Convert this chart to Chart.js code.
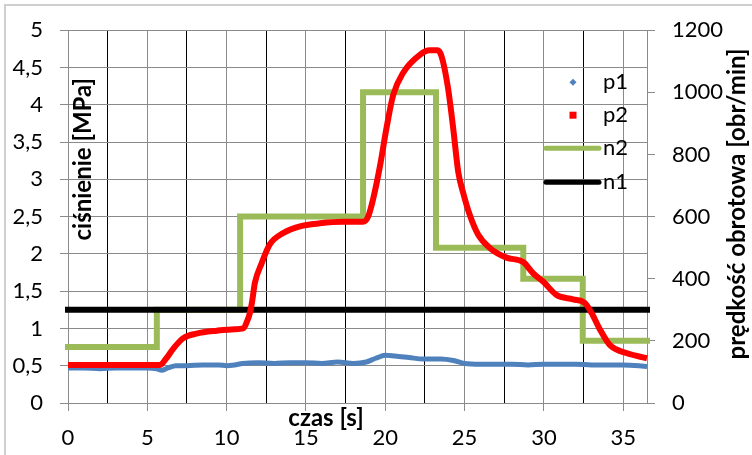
<!DOCTYPE html>
<html>
<head>
<meta charset="utf-8">
<script src="https://cdn.jsdelivr.net/npm/chart.js@4/dist/chart.umd.min.js"></script>
<style>
  html, body { margin: 0; padding: 0; background: #fff; }
</style>
</head>
<body>
<canvas id="chart" width="752" height="455"></canvas>
<script>
// p1 pressure [MPa] over time [s]
const p1Time   = [0, 1, 2, 3, 4, 5, 5.6, 5.9, 6.3, 6.8, 7.5, 8.5, 9.5, 10, 10.5, 11, 12, 13, 14, 15, 16, 17, 18, 18.8, 19.4, 20, 20.6, 21.5, 22.4, 23.5, 24.3, 25, 26, 27, 28, 29, 30, 31, 32, 33, 34, 35, 36, 36.5];
const p1Values = [0.47, 0.47, 0.46, 0.47, 0.47, 0.47, 0.46, 0.44, 0.47, 0.50, 0.50, 0.51, 0.51, 0.50, 0.51, 0.53, 0.54, 0.53, 0.54, 0.54, 0.53, 0.55, 0.53, 0.55, 0.60, 0.64, 0.63, 0.61, 0.59, 0.59, 0.57, 0.53, 0.52, 0.52, 0.52, 0.51, 0.52, 0.52, 0.52, 0.51, 0.51, 0.51, 0.50, 0.49];

// p2 pressure [MPa] over time [s]
const p2Time   = [0, 2, 4, 5.8, 6.2, 6.64, 7.27, 8.1, 9.4, 10.5, 11.05, 11.3, 11.47, 11.6, 11.78, 12.2, 12.73, 13.57, 14.62, 15.88, 17.35, 18.6, 18.92, 19.24, 19.66, 20.08, 20.5, 21.13, 22.18, 22.8, 23.3, 23.55, 23.96, 24.28, 24.6, 24.91, 25.33, 25.85, 26.59, 27.64, 28.7, 29.32, 29.95, 30.79, 31.84, 32.58, 33.0, 33.5, 34.15, 35.2, 36.5];
const p2Values = [0.51, 0.51, 0.51, 0.51, 0.60, 0.73, 0.87, 0.93, 0.97, 0.99, 1.00, 1.10, 1.21, 1.35, 1.61, 1.87, 2.13, 2.28, 2.37, 2.41, 2.43, 2.43, 2.50, 2.74, 3.17, 3.69, 4.13, 4.43, 4.67, 4.73, 4.73, 4.65, 4.22, 3.69, 3.10, 2.82, 2.52, 2.26, 2.08, 1.95, 1.89, 1.74, 1.63, 1.45, 1.39, 1.34, 1.21, 1.00, 0.78, 0.67, 0.60];

// n2 rotational speed [obr/min] (steps)
const n2Time   = [0, 5.6, 5.6, 10.85, 10.85, 18.6, 18.6, 23.2, 23.2, 28.7, 28.7, 32.45, 32.45, 36.5];
const n2Values = [180, 180, 300, 300, 600, 600, 1000, 1000, 500, 500, 400, 400, 200, 200];

// n1 rotational speed [obr/min]
const n1Time   = [0, 36.5];
const n1Values = [300, 300];

// tick labels
const pressureTicks = [0, 0.5, 1, 1.5, 2, 2.5, 3, 3.5, 4, 4.5, 5];
const pressureLabels = ['0', '0,5', '1', '1,5', '2', '2,5', '3', '3,5', '4', '4,5', '5'];
const speedTicks = [0, 200, 400, 600, 800, 1000, 1200];
const speedLabels = ['0', '200', '400', '600', '800', '1000', '1200'];
const timeLabels = ['0', '5', '10', '15', '20', '25', '30', '35'];

const GRID = '#8a8a8a';
const FONT = 'Lato';

const toPoints = (xs, ys) => xs.map((x, i) => ({ x: x, y: ys[i] }));

// frame, axis titles and the legend inside the plot
const extras = {
    id: 'extras',
    beforeDraw(chart) {
        const ctx = chart.ctx;
        ctx.save();
        ctx.strokeStyle = '#cfcfcf';
        ctx.lineWidth = 2;
        ctx.beginPath();
        ctx.moveTo(5, chart.height);
        ctx.lineTo(5, 5);
        ctx.lineTo(chart.width, 5);
        ctx.stroke();
        ctx.restore();
    },
    afterDraw(chart) {
        const ctx = chart.ctx;
        const a = chart.chartArea;
        ctx.save();
        ctx.fillStyle = '#000';
        ctx.textBaseline = 'middle';

        // axis titles
        ctx.font = 'bold 24px ' + FONT;
        ctx.textAlign = 'center';
        ctx.fillText('czas [s]', 326, 418);

        ctx.save();
        ctx.translate(a.left + 15, a.top + 129);
        ctx.rotate(-Math.PI / 2);
        ctx.fillText('ciśnienie [MPa]', 0, 0);
        ctx.restore();

        ctx.save();
        ctx.translate(737, 204);
        ctx.rotate(-Math.PI / 2);
        ctx.fillText('prędkość obrotowa [obr/min]', 0, 0);
        ctx.restore();

        // legend
        const ds = chart.data.datasets;
        const rows = [a.top + 52, a.top + 85, a.top + 118, a.top + 152];
        const mx = a.right - 74;
        ctx.font = '22px ' + FONT;
        ctx.textAlign = 'left';
        ds.forEach((d, i) => {
            const y = rows[i];
            if (d.legendStyle === 'diamond') {
                ctx.save();
                ctx.translate(mx, y);
                ctx.rotate(Math.PI / 4);
                ctx.fillStyle = d.borderColor;
                ctx.fillRect(-2.5, -2.5, 5, 5);
                ctx.restore();
            } else if (d.legendStyle === 'square') {
                ctx.fillStyle = d.borderColor;
                ctx.fillRect(mx - 3.5, y - 3.5, 7, 7);
            } else {
                ctx.strokeStyle = d.borderColor;
                ctx.lineWidth = 5;
                ctx.lineCap = 'round';
                ctx.beginPath();
                ctx.moveTo(a.right - 101, y);
                ctx.lineTo(a.right - 48, y);
                ctx.stroke();
            }
            ctx.fillStyle = '#000';
            ctx.fillText(d.label, a.right - 44, y);
        });
        ctx.restore();
    }
};

new Chart(document.getElementById('chart'), {
    type: 'scatter',
    data: {
        datasets: [
            { label: 'p1', data: toPoints(p1Time, p1Values), yAxisID: 'y', borderColor: '#4F81BD', borderWidth: 5, legendStyle: 'diamond', order: 2, cubicInterpolationMode: 'monotone' },
            { label: 'p2', data: toPoints(p2Time, p2Values), yAxisID: 'y', borderColor: '#FF0000', borderWidth: 6, legendStyle: 'square', order: 1, cubicInterpolationMode: 'monotone' },
            { label: 'n2', data: toPoints(n2Time, n2Values), yAxisID: 'y1', borderColor: '#9BBB59', borderWidth: 6, borderCapStyle: 'square', borderJoinStyle: 'miter', legendStyle: 'line', order: 4 },
            { label: 'n1', data: toPoints(n1Time, n1Values), yAxisID: 'y1', borderColor: '#000000', borderWidth: 6, borderCapStyle: 'square', legendStyle: 'line', order: 3 }
        ].map(d => ({ ...d, showLine: true, pointRadius: 0, pointHoverRadius: 0, clip: 5 }))
    },
    options: {
        responsive: false,
        devicePixelRatio: 1,
        animation: false,
        layout: { padding: { top: 20, left: 0, right: 0, bottom: 0 } },
        plugins: { legend: { display: false }, tooltip: { enabled: false } },
        scales: {
            x: {
                type: 'linear',
                min: 0,
                max: 36.5,
                afterFit: s => { s.height = 52; },
                afterBuildTicks: s => {
                    // grid every 2.5 s, labels every 5 s
                    s.ticks = [];
                    for (let i = 0; i < timeLabels.length * 2 - 1; i++) s.ticks.push({ value: i * 2.5 });
                },
                ticks: {
                    padding: 14,
                    color: '#000',
                    font: { family: FONT, size: 22 },
                    maxRotation: 0,
                    autoSkip: false,
                    callback: (v) => (v % 5 === 0 ? timeLabels[v / 5] : '')
                },
                grid: {
                    color: c => (c.tick && c.tick.value % 5 !== 0 ? '#000' : GRID),
                    tickColor: c => (c.tick && c.tick.value % 5 !== 0 ? 'rgba(0,0,0,0)' : GRID),
                    tickLength: 8
                },
                border: { display: true, color: GRID }
            },
            y: {
                type: 'linear',
                position: 'left',
                min: 0,
                max: 5,
                afterFit: s => { s.width = 68; },
                afterBuildTicks: s => { s.ticks = pressureTicks.map(v => ({ value: v })); },
                ticks: {
                    padding: 17,
                    color: '#000',
                    font: { family: FONT, size: 22 },
                    callback: (v) => pressureLabels[pressureTicks.indexOf(v)]
                },
                grid: { color: GRID, tickColor: GRID, tickLength: 8 },
                border: { display: true, color: GRID }
            },
            y1: {
                type: 'linear',
                position: 'right',
                min: 0,
                max: 1200,
                afterFit: s => { s.width = 105; },
                afterBuildTicks: s => { s.ticks = speedTicks.map(v => ({ value: v })); },
                ticks: {
                    padding: 17,
                    color: '#000',
                    font: { family: FONT, size: 22 },
                    callback: (v) => speedLabels[speedTicks.indexOf(v)]
                },
                grid: { drawOnChartArea: false, color: GRID, tickColor: GRID, tickLength: 8 },
                border: { display: true, color: GRID }
            }
        }
    },
    plugins: [extras]
});
</script>
</body>
</html>
